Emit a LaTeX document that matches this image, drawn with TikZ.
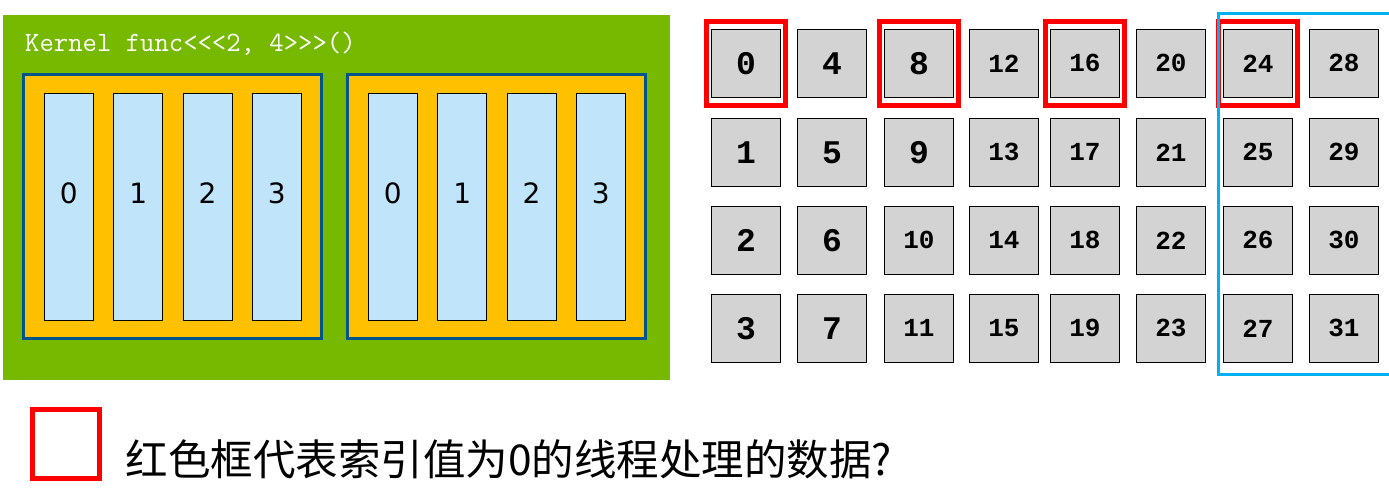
\documentclass[tikz,border=0pt]{standalone}
\usepackage{fontspec}
\setmainfont{DejaVu Sans}
\newfontfamily\cellfont{Liberation Mono}
\newfontfamily\cjkfont{Noto Sans CJK SC}
\usetikzlibrary{positioning,fit}
\definecolor{mygreen}{RGB}{118,185,0}
\definecolor{myorange}{RGB}{255,192,0}
\definecolor{mydarkblue}{RGB}{0,84,140}
\definecolor{mylightblue}{RGB}{192,228,250}
\definecolor{mygray}{RGB}{211,211,211}
\definecolor{mycyan}{RGB}{0,176,240}
\newcommand{\cellbigfont}{\cellfont\bfseries\fontsize{33}{33}\selectfont}
\newcommand{\cellsmallfont}{\cellfont\bfseries\fontsize{26}{26}\selectfont}
\newcommand{\threadnum}[1]{\raisebox{14pt}[\height][\depth]{#1}}

\begin{document}
\begin{tikzpicture}[x=1pt,y=-1pt,
  blocknode/.style={draw=mydarkblue,line width=3pt,fill=myorange,
    minimum width=298pt,minimum height=264pt,inner sep=0pt,anchor=north west},
  threadnode/.style={draw,line width=0.8pt,fill=mylightblue,minimum width=49pt,
    minimum height=227pt,inner sep=0pt,anchor=north west,font=\fontsize{28}{28}\selectfont},
  cellnode/.style={draw,line width=0.8pt,fill=mygray,minimum width=69pt,
    minimum height=68pt,inner sep=0pt,anchor=north west},
  redbox/.style={draw=red,line width=5pt,inner xsep=5pt,inner ysep=7.5pt},
  bluebox/.style={draw=mycyan,line width=3pt}]

  \useasboundingbox (0,0) rectangle (1389,490);
  \clip (0,0) rectangle (1389,490);

  % kernel with two blocks
  \node[fill=mygreen,minimum width=667pt,minimum height=365pt,inner sep=0pt,
    anchor=north west] (kernel) at (3,15) {};
  \node[anchor=base west,inner sep=0pt,text=white,font=\ttfamily\fontsize{27.9}{27.9}\selectfont]
    (kname) at ([shift={(22,36)}]kernel.north west) {Kernel func<<<2, 4>>>()};

  \node[blocknode] (b1) at (22,73) {};
  \node[blocknode,right=23pt of b1] (b2) {};

  % threads in each block
  \foreach \b in {1,2} {
    \node[threadnode] (t\b-0) at ([shift={(22,20)}]b\b.north west) {\threadnum{0}};
    \foreach \t [remember=\t as \p (initially 0)] in {1,2,3}
      \node[threadnode,right=19.5pt of t\b-\p] (t\b-\t) {\threadnum{\t}};
  }

  % data cells on right side
  \foreach \x [count=\i from 0] in {711,797,884,969,1050,1136,1223,1309}
    \foreach \y [count=\j from 0] in {29,118,206,294} {
      \pgfmathtruncatemacro\n{4*\i+\j}
      \ifnum\n<10 \let\numfont\cellbigfont\else\let\numfont\cellsmallfont\fi
      \node[cellnode,font=\numfont] (c\n) at (\x,\y) {\n};
    }

  % red boxes for thread 0
  \foreach \k in {0,8,16,24}
    \node[redbox,fit=(c\k)] (r\k) {};

  % last block of data
  \draw[bluebox] ([shift={(-4.5,-15.5)}]c24.north west) rectangle ([shift={(20,11.5)}]c31.south east);

  % legend
  \node[draw=red,line width=4.5pt,minimum width=67pt,minimum height=69pt,
    anchor=north west] (legbox) at (30,407) {};
  \node[anchor=base west,inner sep=0pt,font=\cjkfont\fontsize{42.5}{42.5}\selectfont]
    (legtext) at ([shift={(24,68)}]legbox.north east) {红色框代表索引值为0的线程处理的数据?};

\end{tikzpicture}
\end{document}
